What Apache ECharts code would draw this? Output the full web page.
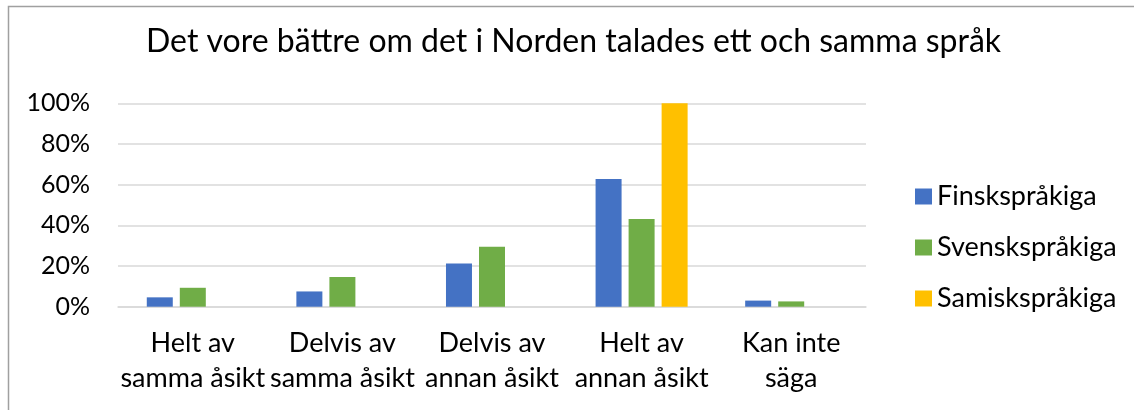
<!DOCTYPE html>
<html lang="sv">
<head>
    <meta charset="UTF-8">
    <script type="text/javascript" src="https://cdn.jsdelivr.net/npm/echarts@6/dist/echarts.min.js"></script>
    <style>
        html, body {
            margin: 0;
            overflow: hidden;
            background: #fff;
        }
        #viewport {
            position: absolute;
            left: 0px;
            top: 0px;
            width: 1134px;
            height: 410px;
        }
    </style>
</head>
<body>
<div id="viewport"></div>
<script>
    var categories = [
        'Helt av\nsamma åsikt',
        'Delvis av\nsamma åsikt',
        'Delvis av\nannan åsikt',
        'Helt av\nannan åsikt',
        'Kan inte\nsäga'
    ];
    var seriesNames = ['Finskspråkiga', 'Svenskspråkiga', 'Samiskspråkiga'];
    var finska = [0.046, 0.075, 0.213, 0.628, 0.030];
    var svenska = [0.093, 0.146, 0.295, 0.431, 0.026];
    var samiska = [0, 0, 0, 1.0, 0];
    var yTicks = [0, 0.2, 0.4, 0.6, 0.8, 1.0];

    var font = 'Lato';
    var colors = ['#4472C4', '#70AD47', '#FFC000'];

    var myChart = echarts.init(document.getElementById('viewport'));

    function bar(name, data, color) {
        return {
            name: name,
            type: 'bar',
            data: data,
            barWidth: 26,
            barGap: '27%',
            itemStyle: { color: color },
            animation: false
        };
    }

    var option = {
        animation: false,
        textStyle: { fontFamily: font, color: '#000' },
        title: {
            text: 'Det vore bättre om det i Norden talades ett och samma språk',
            left: 146,
            top: 26,
            padding: 0,
            textStyle: { fontFamily: font, fontSize: 32, fontWeight: 'normal', color: '#000' }
        },
        graphic: [{
            type: 'rect',
            shape: { x: 8.5, y: 6.5, width: 1200, height: 500 },
            style: { fill: 'none', stroke: '#a0a0a0', lineWidth: 1.5 },
            silent: true
        }],
        legend: {
            orient: 'vertical',
            left: 910,
            top: 178,
            itemWidth: 17,
            itemHeight: 16,
            itemGap: 24,
            icon: 'rect',
            data: seriesNames,
            textStyle: { fontFamily: font, fontSize: 27, color: '#000' }
        },
        grid: {
            left: 118,
            right: 268,
            top: 103.3,
            bottom: 103.3,
            containLabel: false
        },
        xAxis: {
            type: 'category',
            data: categories,
            axisTick: { show: false },
            axisLine: { show: true, lineStyle: { color: '#d9d9d9', width: 1.5 } },
            axisLabel: {
                interval: 0,
                margin: 19,
                fontFamily: font,
                fontSize: 27,
                lineHeight: 35,
                color: '#000'
            }
        },
        yAxis: {
            type: 'value',
            min: yTicks[0],
            max: yTicks[yTicks.length - 1],
            interval: 0.2,
            axisLine: { show: false },
            axisTick: { show: false },
            splitLine: { lineStyle: { color: '#d9d9d9', width: 1.5 } },
            axisLabel: {
                margin: 28,
                fontFamily: font,
                fontSize: 25,
                color: '#000',
                formatter: function (v) { return Math.round(v * 100) + '%'; }
            }
        },
        series: [
            bar(seriesNames[0], finska, colors[0]),
            bar(seriesNames[1], svenska, colors[1]),
            bar(seriesNames[2], samiska, colors[2])
        ]
    };
    myChart.setOption(option);
</script>
</body>
</html>
